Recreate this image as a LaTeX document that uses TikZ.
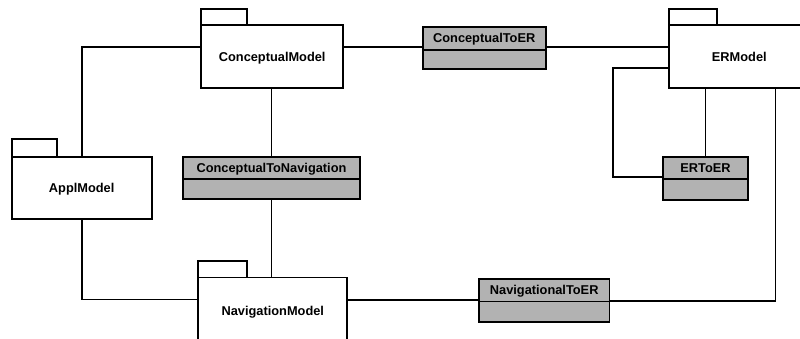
\documentclass[tikz,border=0pt]{standalone}
\usepackage{fontspec}
\setmainfont{Liberation Sans}
\begin{document}
\begin{tikzpicture}[x=1pt,y=-1pt,line width=1.8pt,
  lbl/.style={font=\fontsize{12.8}{15}\selectfont\bfseries,text height=9.2pt,text depth=0pt},
  pkg/.style={draw,fill=white,rectangle,inner sep=0pt,outer sep=0pt,lbl},
  cls/.style={draw,fill=black!30,rectangle,inner sep=0pt,outer sep=0pt,lbl},
  clsbody/.style={draw,fill=black!30,rectangle,inner sep=0pt,outer sep=0pt},
  conn/.style={draw,line width=1.8pt}]
\useasboundingbox (0,0) rectangle (800,338);
% packages
\node[pkg,minimum width=142pt,minimum height=63pt] (cm) at (272.2,56.5) {ConceptualModel};
\node[pkg,minimum width=140pt,minimum height=62pt] (am) at (81.7,188.3) {ApplModel};
\node[pkg,minimum width=149pt,minimum height=66pt] (nm) at (272.8,310.5) {NavigationModel};
\node[pkg,minimum width=140pt,minimum height=63pt] (er) at (739.3,56.5) {ERModel};
% tabs
\draw (cm.north west) rectangle ++(46,-15.7);
\draw (am.north west) rectangle ++(45.6,-18);
\draw (nm.north west) rectangle ++(48.7,-16.5);
\draw (er.north west) rectangle ++(48,-15.7);
% classes
\node[cls,minimum width=123pt,minimum height=23.3pt] (ct) at (484.2,38.35) {ConceptualToER};
\node[clsbody,minimum width=123pt,minimum height=19.3pt,anchor=north] (ctb) at (ct.south) {};
\node[cls,minimum width=176.4pt,minimum height=22.6pt] (cn) at (271.5,168) {ConceptualToNavigation};
\node[clsbody,minimum width=176.4pt,minimum height=20pt,anchor=north] (cnb) at (cn.south) {};
\node[cls,minimum width=84.4pt,minimum height=22.3pt] (ee) at (705.5,167.85) {ERToER};
\node[clsbody,minimum width=84.4pt,minimum height=21pt,anchor=north] (eeb) at (ee.south) {};
\node[cls,minimum width=130.5pt,minimum height=22.5pt] (nt) at (544.2,290.25) {NavigationalToER};
\node[clsbody,minimum width=130.5pt,minimum height=20.2pt,anchor=north] (ntb) at (nt.south) {};
% helper coordinates
\coordinate (k) at (613.3,0);
\coordinate (r) at (775.5,0);
% connectors
\draw[conn] ([yshift=9.5pt]cm.west) -| (am.north);
\draw[conn] (am.south) |- ([yshift=11pt]nm.west);
\draw[conn] (cn.north) -- (cn.north |- cm.south);
\draw[conn] (cnb.south) -- (cnb.south |- nm.north);
\draw[conn] ([yshift=9.5pt]cm.east) -- ([yshift=9.5pt]cm.east -| ct.west);
\draw[conn] ([yshift=9.5pt]cm.east -| ct.east) -- ([yshift=9.5pt]cm.east -| er.west);
\draw[conn] ([yshift=-11.2pt]er.west) -| ([yshift=-8.8pt]ee.west -| k) -- ([yshift=-8.8pt]ee.west);
\draw[conn] (ee.north) -- (ee.north |- er.south);
\draw[conn] (r |- er.south) |- ([yshift=0.5pt]nt.south east);
\draw[conn] ([yshift=1.5pt]nt.south west) -- ([yshift=1.5pt]nt.south west -| nm.east);
\end{tikzpicture}
\end{document}
